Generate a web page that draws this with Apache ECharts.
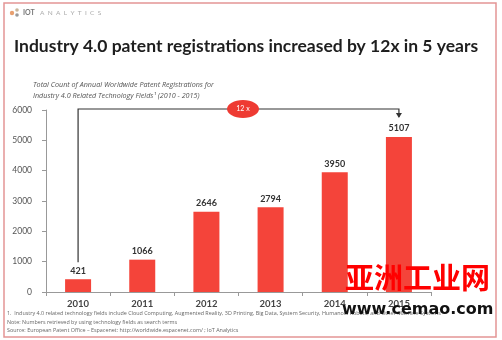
<!DOCTYPE html>
<html><head><meta charset="utf-8">
<script src="https://cdn.jsdelivr.net/npm/echarts@6/dist/echarts.min.js"></script>
<style>html,body{margin:0;padding:0;background:#fff}#c{width:502px;height:340px}</style>
</head><body><div id="c"></div>
<script>
var years = ['2010','2011','2012','2013','2014','2015'];
var registrations = [421, 1066, 2646, 2794, 3950, 5107];
var yTicks = [0, 1000, 2000, 3000, 4000, 5000, 6000];
var titleText = 'Industry 4.0 patent registrations increased by 12x in 5 years';
var subtitleText = 'Total Count of Annual Worldwide Patent Registrations for\nIndustry 4.0 Related Technology Fields\u00B9 (2010 - 2015)';
var growthText = '12 x';
var footnotes = [
  '1.  Industry 4.0 related technology fields include Cloud Computing, Augmented Reality, 3D Printing, Big Data, System Security, Humanoid Robots, and Other Machine Systems',
  'Note: Numbers retrieved by using technology fields as search terms',
  'Source: European Patent Office \u2013 Espacenet: http://worldwide.espacenet.com/ ; IoT Analytics'
];

var chart = echarts.init(document.getElementById('c'), null, {renderer:'canvas'});
var baseFont = 'Lato, "Open Sans", sans-serif';
var option = {
  animation: false,
  backgroundColor: '#fff',
  grid: {left: 46, right: 71, top: 110, bottom: 48, containLabel: false},
  xAxis: {
    type: 'category', data: years,
    axisLine: {lineStyle: {color: '#999', width: 1}},
    axisTick: {show: true, alignWithLabel: false, length: 4, lineStyle: {color: '#999'}},
    axisLabel: {color: '#444', fontSize: 9.5, fontWeight: 'bold', fontFamily: baseFont, margin: 7}
  },
  yAxis: {
    type: 'value', min: yTicks[0], max: yTicks[yTicks.length-1], interval: yTicks[1]-yTicks[0],
    axisLine: {show: true, lineStyle: {color: '#999'}},
    axisTick: {show: true, length: 4, lineStyle: {color: '#999'}},
    splitLine: {show: false},
    axisLabel: {color: '#555', fontSize: 8.5, fontFamily: baseFont, margin: 14, formatter: function(v){return String(v);}}
  },
  series: [{
    type: 'bar', data: registrations, barWidth: 26,
    itemStyle: {color: '#f4443a'},
    label: {show: true, position: 'top', distance: 4, color: '#333', fontSize: 9, fontWeight: 'bold', fontFamily: baseFont}
  }]
};
chart.setOption(option);

var p0 = chart.convertToPixel({seriesIndex:0}, [0, registrations[0]]);
var p5 = chart.convertToPixel({seriesIndex:0}, [5, registrations[5]]);
var lineY = 109;
var footTexts = footnotes.map(function(t, i){
  return {type:'text', left: 7, top: 311 + i*8.5, style:{text: t, fill:'#666', font: '5.4px "Open Sans", sans-serif'}};
});
var graphics = [
  {type:'rect', shape:{x:4, y:3, width:492, height:334}, style:{fill:'none', stroke:'#e39595', lineWidth:1.5}},
  {type:'circle', shape:{cx:12, cy:13, r:2.2}, style:{fill:'#e8a070'}},
  {type:'circle', shape:{cx:17, cy:10, r:1.8}, style:{fill:'#c9b59a'}},
  {type:'circle', shape:{cx:17, cy:15, r:1.8}, style:{fill:'#9a9a9a'}},
  {type:'text', left: 23, top: 9, style:{text:'IOT', fill:'#777', font:'bold 7px ' + baseFont}},
  {type:'text', left: 40, top: 9, style:{text:'A  N  A  L  Y  T  I  C  S', fill:'#aaa', font:'6.5px ' + baseFont}},
  {type:'text', left: 14, top: 37, style:{text: titleText, fill:'#1e1e1e', font:'bold 17.5px ' + baseFont}},
  {type:'text', left: 33, top: 80, style:{text: subtitleText, fill:'#555', font:'italic 7.2px "Open Sans", sans-serif', lineHeight: 10.5}},
  {type:'polyline', shape:{points:[[p0[0], p0[1]-17],[p0[0], lineY],[p5[0], lineY],[p5[0], p5[1]-20]]}, style:{stroke:'#333', lineWidth:1.2, fill:'none'}},
  {type:'polygon', shape:{points:[[p5[0]-3, p5[1]-24],[p5[0]+3, p5[1]-24],[p5[0], p5[1]-19]]}, style:{fill:'#333'}},
  {type:'ellipse', shape:{cx:243, cy:lineY, rx:16, ry:9}, style:{fill:'#ee3b33'}, z:10},
  {type:'text', x:243, y:lineY, z:11, style:{text: growthText, fill:'#fff', font:'7px ' + baseFont, textAlign:'center', textVerticalAlign:'middle'}},
  {type:'text', left: 345, top: 263, z:20, style:{text:'亚洲工业网', fill:'#ff0000', font:'bold 29px "Noto Sans CJK SC", sans-serif'}},
  {type:'text', left: 342, top: 302, z:20, style:{text:'www.cemao.com', fill:'#111', font:'bold 16px "DejaVu Sans", sans-serif'}}
].concat(footTexts);
chart.setOption({graphic: graphics});
</script></body></html>
